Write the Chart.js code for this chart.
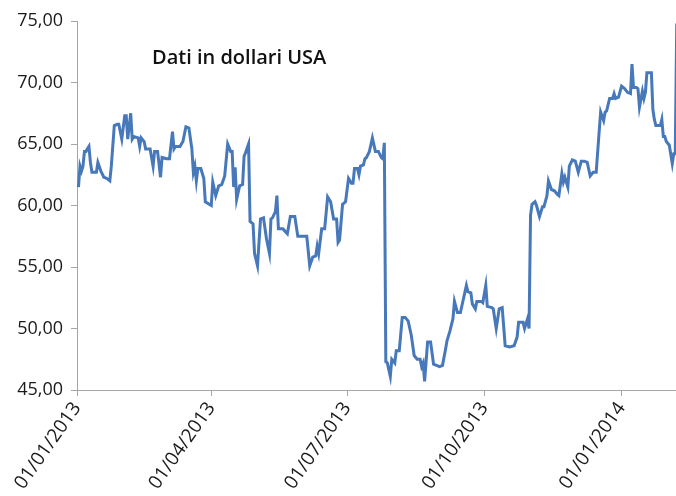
<!DOCTYPE html>
<html>
<head>
<meta charset="utf-8">
<script src="https://cdn.jsdelivr.net/npm/chart.js@4.4.1/dist/chart.umd.min.js"></script>
<style>
  html, body { margin: 0; padding: 0; background: #fff; }
  #wrap { width: 676px; height: 496px; position: relative; }
</style>
</head>
<body>
<div id="wrap"><canvas id="c"></canvas></div>
<script>
// giorni dal 01/01/2013 e prezzo (dollari USA)
var days = [1, 2, 3, 4, 5, 6, 8, 9, 10, 13, 14, 16, 18, 20, 22, 23, 25, 27, 28, 30,
  32, 33, 34, 36, 37, 38, 41, 42, 43, 45, 46, 49, 51, 52, 54, 56, 57, 60, 62, 64,
  65, 66, 69, 71, 73, 75, 77, 78, 79, 80, 81, 83, 85, 86, 90, 91, 93, 95, 97, 99,
  101, 103, 104, 105, 106, 107, 109, 111, 112, 113, 115, 116, 118, 119, 121, 123, 125, 127, 129, 130,
  131, 133, 134, 135, 138, 141, 143, 146, 148, 154, 156, 158, 160, 161, 162, 164, 166, 168, 170, 172,
  174, 175, 176, 178, 180, 182, 184, 185, 186, 188, 189, 190, 192, 193, 194, 196, 198, 200, 202, 204,
  205, 206, 207, 208, 210, 211, 213, 214, 216, 218, 220, 222, 224, 226, 228, 230, 231, 232, 233, 235,
  237, 239, 241, 243, 245, 247, 248, 250, 252, 253, 255, 257, 259, 261, 262, 264, 265, 267, 268, 271,
  272, 274, 275, 278, 279, 281, 283, 285, 287, 290, 293, 295, 296, 299, 300, 302, 303, 304, 305, 307,
  308, 310, 312, 313, 315, 316, 318, 320, 322, 323, 325, 326, 327, 329, 330, 332, 334, 336, 338, 340,
  342, 344, 346, 348, 350, 351, 353, 354, 355, 357, 359, 360, 361, 363, 365, 367, 369, 371, 372, 373,
  375, 376, 377, 379, 380, 381, 382, 385, 386, 387, 388, 391, 392, 393, 394, 395, 397, 399, 400, 401,
  402];
var prices = [61.5, 63.2, 62.8, 63.2, 64.4, 64.4, 64.8, 63.5, 62.7, 62.7, 63.5, 62.8, 62.3, 62.2, 62.0, 63.2, 66.5, 66.6, 66.6, 65.4,
  67.3, 67.3, 65.4, 67.5, 65.4, 65.6, 65.5, 64.8, 65.5, 65.2, 64.6, 64.6, 63.2, 64.4, 64.4, 62.3, 63.9, 63.8, 63.8, 66.0,
  64.6, 64.8, 64.8, 65.2, 66.4, 66.3, 64.6, 62.7, 63.2, 62.0, 63.0, 63.0, 62.2, 60.3, 60.0, 61.9, 60.8, 61.6, 61.7, 62.4,
  65.0, 64.4, 64.4, 61.5, 63.1, 60.5, 61.6, 61.7, 64.0, 64.3, 65.0, 58.7, 58.5, 56.1, 55.1, 58.9, 59.0, 57.3, 56.1, 58.9,
  59.0, 59.5, 60.8, 58.1, 58.1, 57.7, 59.1, 59.1, 57.5, 57.5, 55.1, 55.8, 55.9, 56.7, 56.1, 58.1, 58.1, 60.7, 60.3, 58.9,
  58.9, 57.0, 57.2, 60.1, 60.3, 62.2, 61.8, 61.8, 63.0, 63.0, 62.5, 63.2, 63.3, 63.8, 63.9, 64.4, 65.5, 64.4, 64.4, 63.9,
  63.8, 65.1, 47.3, 47.2, 46.1, 47.5, 47.2, 48.2, 48.2, 50.9, 50.9, 50.6, 49.5, 47.8, 47.5, 47.5, 46.9, 47.2, 45.7, 48.9,
  48.9, 47.1, 47.0, 46.9, 47.0, 48.3, 49.0, 49.8, 50.8, 52.2, 51.3, 51.3, 52.4, 53.5, 53.0, 52.9, 52.0, 51.6, 52.2, 52.2,
  52.1, 53.5, 51.8, 51.7, 51.6, 50.0, 51.6, 51.7, 48.6, 48.5, 48.6, 49.3, 50.5, 50.5, 50.0, 50.8, 50.0, 59.2, 60.1, 60.3,
  60.0, 59.1, 59.9, 59.9, 60.8, 62.0, 61.3, 61.2, 60.9, 60.8, 62.6, 61.9, 62.3, 61.5, 63.2, 63.7, 63.6, 62.7, 63.6, 63.6,
  63.5, 62.4, 62.7, 62.7, 66.0, 67.6, 66.9, 67.6, 67.7, 68.7, 68.7, 69.1, 68.7, 68.8, 69.7, 69.5, 69.2, 69.1, 71.5, 69.6,
  69.6, 69.5, 68.0, 69.3, 68.7, 69.2, 70.8, 70.8, 67.8, 67.0, 66.5, 66.5, 67.0, 65.6, 65.6, 65.2, 64.9, 63.4, 64.2, 64.2,
  74.8];

var tickDays = [0, 90, 181, 273, 365];
var tickLabels = ['01/01/2013', '01/04/2013', '01/07/2013', '01/10/2013', '01/01/2014'];
var yTicks = [45, 50, 55, 60, 65, 70, 75];
var noteText = 'Dati in dollari USA';

var FONT = '"Open Sans", "DejaVu Sans", sans-serif';
var AXIS_GREY = '#a6a6a6';

var points = days.map(function (d, i) { return { x: d, y: prices[i] }; });

// testo dentro l'area del grafico
var notePlugin = {
  id: 'noteText',
  afterDraw: function (chart) {
    var area = chart.chartArea;
    var ctx = chart.ctx;
    ctx.save();
    ctx.font = '600 20px ' + FONT;
    ctx.fillStyle = '#111';
    ctx.textAlign = 'left';
    ctx.textBaseline = 'middle';
    ctx.fillText(noteText, area.left + 75, area.top + 37);
    ctx.restore();
  }
};

new Chart(document.getElementById('c'), {
  type: 'line',
  data: {
    datasets: [{
      data: points,
      borderColor: '#4678ba',
      borderWidth: 3,
      pointRadius: 0,
      tension: 0,
      fill: false
    }]
  },
  plugins: [notePlugin],
  options: {
    animation: false,
    responsive: true,
    maintainAspectRatio: false,
    parsing: false,
    layout: { padding: { top: 21, right: 0, bottom: 0, left: 0 } },
    scales: {
      x: {
        type: 'linear',
        min: 0,
        max: 401.5,
        afterBuildTicks: function (scale) {
          scale.ticks = tickDays.map(function (v) { return { value: v }; });
        },
        afterFit: function (scale) {
          scale.height = 106;
          scale.paddingLeft = 0;
          scale.paddingRight = 0;
        },
        ticks: {
          autoSkip: false,
          maxRotation: 55,
          minRotation: 55,
          padding: 2,
          color: '#1a1a1a',
          font: { family: FONT, size: 19 },
          callback: function (value) {
            var i = tickDays.indexOf(value);
            return i >= 0 ? tickLabels[i] : '';
          }
        },
        grid: { drawOnChartArea: false, drawTicks: true, tickLength: 6, color: AXIS_GREY },
        border: { color: AXIS_GREY, width: 1 }
      },
      y: {
        min: 45,
        max: 75,
        afterBuildTicks: function (scale) {
          scale.ticks = yTicks.map(function (v) { return { value: v }; });
        },
        afterFit: function (scale) {
          scale.width = 77;
          scale.paddingTop = 0;
          scale.paddingBottom = 0;
        },
        ticks: {
          padding: 8,
          color: '#1a1a1a',
          font: { family: FONT, size: 18 },
          callback: function (value) {
            return value.toFixed(2).replace('.', ',');
          }
        },
        grid: { drawOnChartArea: false, drawTicks: true, tickLength: 6, color: AXIS_GREY },
        border: { color: AXIS_GREY, width: 1 }
      }
    },
    plugins: {
      legend: { display: false },
      tooltip: { enabled: false }
    }
  }
});
</script>
</body>
</html>
